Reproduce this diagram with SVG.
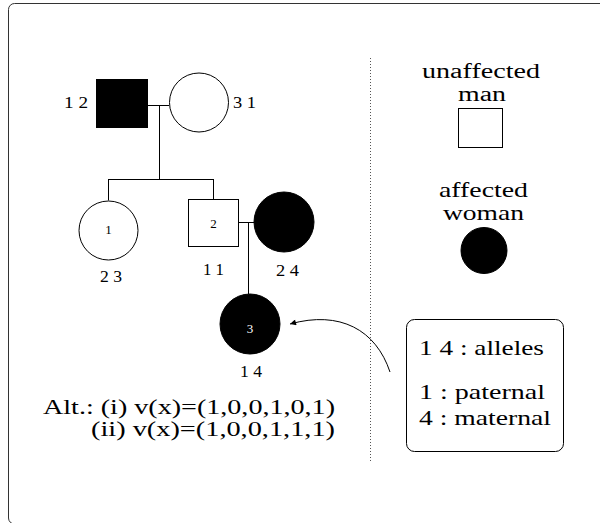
<svg xmlns="http://www.w3.org/2000/svg" width="600" height="523" viewBox="0 0 600 523">
  <style>
    text { font-family: "Liberation Serif", "Times New Roman", serif; fill: #000; }
    .big { font-size: 21px; }
    .tight { font-size: 20px; }
    .lab { font-size: 16px; }
    .num { font-size: 13px; }
    .line { stroke: #000; stroke-width: 1; fill: none; }
    .open { fill: #fff; stroke: #000; stroke-width: 1; }
    .solid { fill: #000; stroke: #000; stroke-width: 1; }
  </style>
  <defs>
    <marker id="arrowhead" viewBox="0 0 10 10" refX="10" refY="5" markerWidth="9" markerHeight="6" orient="auto" markerUnits="userSpaceOnUse">
      <path d="M0,0 L10,5 L0,10 z" fill="#000"/>
    </marker>
  </defs>

  <!-- outer frame -->
  <rect x="8.5" y="3.5" width="620" height="520.5" rx="6" ry="6" fill="none" stroke="#333" stroke-width="1"/>

  <!-- dotted divider between pedigree and legend -->
  <line x1="370.5" y1="58" x2="370.5" y2="463" stroke="#555" stroke-width="1" stroke-dasharray="1,2"/>

  <!-- connectors -->
  <g id="connectors" class="line">
    <path d="M148,105.5 H169"/>
    <path d="M159.5,105 V179.5"/>
    <path d="M108,179.5 H213.5"/>
    <path d="M108.5,179 V200.5"/>
    <path d="M213.5,179 V199"/>
    <path d="M239,222.5 H254"/>
    <path d="M248.5,222 V294"/>
    <path d="M390,372 C376,330 340,310 290,324" marker-end="url(#arrowhead)"/>
  </g>

  <!-- generation I -->
  <g id="father">
    <rect x="96.5" y="79.5" width="51" height="48" class="solid"/>
    <text class="lab" x="64" y="108" textLength="24" lengthAdjust="spacingAndGlyphs">1 2</text>
  </g>
  <g id="mother">
    <circle cx="199" cy="102.5" r="29.5" class="open"/>
    <text class="lab" x="233" y="108" textLength="23" lengthAdjust="spacingAndGlyphs">3 1</text>
  </g>

  <!-- generation II -->
  <g id="daughter1">
    <circle cx="108.5" cy="230.5" r="29.5" class="open"/>
    <text class="num" x="108.5" y="234" text-anchor="middle">1</text>
    <text class="lab" x="100" y="282" textLength="22" lengthAdjust="spacingAndGlyphs">2 3</text>
  </g>
  <g id="son2">
    <rect x="188.5" y="199.5" width="50" height="47" class="open"/>
    <text class="num" x="213.5" y="228" text-anchor="middle">2</text>
    <text class="lab" x="203" y="275" textLength="21" lengthAdjust="spacingAndGlyphs">1 1</text>
  </g>
  <g id="spouse">
    <circle cx="284" cy="222" r="30" class="solid"/>
    <text class="lab" x="276" y="276" textLength="23" lengthAdjust="spacingAndGlyphs">2 4</text>
  </g>

  <!-- generation III -->
  <g id="child3">
    <circle cx="250" cy="324" r="30" class="solid"/>
    <text class="num" x="250" y="333" text-anchor="middle" style="fill:#fff">3</text>
    <text class="lab" x="240" y="377" textLength="22" lengthAdjust="spacingAndGlyphs">1 4</text>
  </g>

  <!-- alternative vectors -->
  <g id="alternatives">
    <text class="big" x="43" y="414" textLength="292" lengthAdjust="spacingAndGlyphs">Alt.: (i) v(x)=(1,0,0,1,0,1)</text>
    <text class="big" x="91" y="436" textLength="244" lengthAdjust="spacingAndGlyphs">(ii) v(x)=(1,0,0,1,1,1)</text>
  </g>

  <!-- legend -->
  <g id="legend-man">
    <text class="tight" x="422" y="78" textLength="118" lengthAdjust="spacingAndGlyphs">unaffected</text>
    <text class="tight" x="458" y="100.5" textLength="48" lengthAdjust="spacingAndGlyphs">man</text>
    <rect x="458.5" y="108.5" width="44" height="39" class="open"/>
  </g>
  <g id="legend-woman">
    <text class="big" x="439" y="197" textLength="89" lengthAdjust="spacingAndGlyphs">affected</text>
    <text class="big" x="443" y="220" textLength="81" lengthAdjust="spacingAndGlyphs">woman</text>
    <circle cx="484" cy="250.5" r="23" class="solid"/>
  </g>
  <g id="legend-alleles">
    <rect x="406.5" y="319.5" width="157" height="132" rx="8" ry="8" class="open"/>
    <text class="big" x="419" y="355" textLength="125" lengthAdjust="spacingAndGlyphs">1 4 : alleles</text>
    <text class="big" x="419" y="399" textLength="126" lengthAdjust="spacingAndGlyphs">1 : paternal</text>
    <text class="big" x="419" y="425" textLength="132" lengthAdjust="spacingAndGlyphs">4 : maternal</text>
  </g>
</svg>
